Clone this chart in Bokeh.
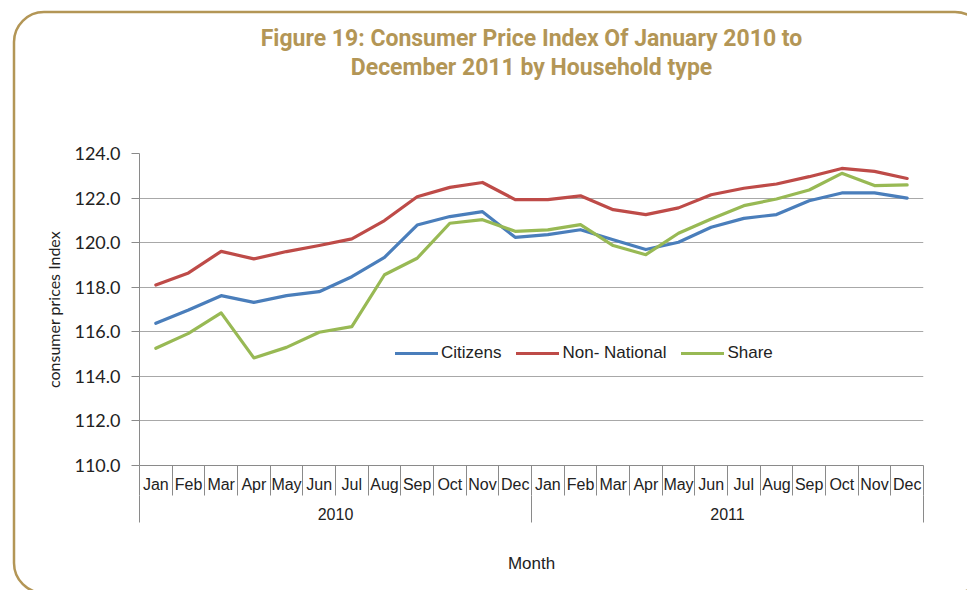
from bokeh.plotting import figure
from bokeh.models import (Range1d, LinearAxis, FixedTicker, CustomJSTickFormatter,
                          Title, Legend, LegendItem, NumeralTickFormatter)
from bokeh.embed import file_html
from bokeh.resources import INLINE

# ---- data ----
years = ["2010", "2011"]
months = ["Jan", "Feb", "Mar", "Apr", "May", "Jun", "Jul", "Aug", "Sep", "Oct", "Nov", "Dec"]
citizens = [116.38, 116.98, 117.62, 117.32, 117.62, 117.80, 118.47, 119.34, 120.79, 121.17, 121.39, 120.24,
            120.36, 120.58, 120.13, 119.69, 120.02, 120.69, 121.09, 121.26, 121.88, 122.23, 122.23, 122.00]
non_national = [118.10, 118.64, 119.61, 119.27, 119.60, 119.87, 120.17, 120.99, 122.06, 122.48, 122.70, 121.93,
                121.93, 122.10, 121.48, 121.26, 121.56, 122.15, 122.44, 122.63, 122.96, 123.33, 123.20, 122.88]
share = [115.26, 115.93, 116.85, 114.83, 115.30, 115.98, 116.23, 118.56, 119.30, 120.87, 121.03, 120.51,
         120.57, 120.81, 119.87, 119.46, 120.42, 121.06, 121.66, 121.96, 122.36, 123.11, 122.56, 122.59]
series_names = ["Citizens", "Non- National", "Share"]
y_ticks = [110, 112, 114, 116, 118, 120, 122, 124]
title_lines = ["Figure 19: Consumer Price Index Of January 2010 to", "December 2011 by Household type"]
y_title = "consumer prices Index"
x_title = "Month"

month_labels = [m for y in years for m in months]
n = len(month_labels)
nm = len(months)
xpos = [i + 0.5 for i in range(n)]  # category centres on the axis scale

GOLD = "#b39656"
GRID = "#a8a8a8"
AXIS = "#8a8a8a"
TXT = "#222222"

p = figure(width=967, height=590, output_backend="svg", toolbar_location=None,
           x_range=Range1d(0, n), y_range=Range1d(y_ticks[0], y_ticks[-1]),
           x_axis_location=None,
           min_border_left=139, min_border_right=44, min_border_top=153, min_border_bottom=125)
p.outline_line_color = None
p.background_fill_color = "white"
p.border_fill_alpha = 0
# rounded gold frame drawn behind the (transparent) canvas border area
p.styles = {
    "background-color": "white",
    "background-image": ("url(\"data:image/svg+xml;utf8,<svg xmlns='http://www.w3.org/2000/svg' "
                         "width='967' height='590'><rect x='14' y='12' width='971' height='581' rx='30' "
                         "ry='30' fill='none' stroke='%23b39656' stroke-width='2.5'/></svg>\")"),
    "background-repeat": "no-repeat",
}

# y axis
yax = p.yaxis[0]
yax.ticker = FixedTicker(ticks=y_ticks)
yax.formatter = NumeralTickFormatter(format="0.0")
yax.major_tick_out = 8
yax.major_tick_in = 0
yax.minor_tick_line_color = None
yax.axis_line_color = AXIS
yax.major_tick_line_color = AXIS
yax.major_label_standoff = 11
yax.major_label_text_font = "Lato"
yax.major_label_text_font_size = "18px"
yax.major_label_text_color = TXT
yax.axis_label = y_title
yax.axis_label_text_font = "Lato"
yax.axis_label_text_font_size = "16px"
yax.axis_label_text_font_style = "normal"
yax.axis_label_text_color = TXT
yax.axis_label_standoff = 8

p.ygrid.grid_line_color = GRID
p.ygrid.grid_line_width = 1
p.xgrid.visible = False

# month axis
ax1 = LinearAxis(ticker=FixedTicker(ticks=xpos, minor_ticks=list(range(n + 1))),
                 formatter=CustomJSTickFormatter(args=dict(labels=month_labels),
                                                 code="return labels[Math.floor(tick)];"))
ax1.major_tick_out = 0
ax1.major_tick_in = 0
ax1.major_tick_line_color = None
ax1.minor_tick_out = 30
ax1.minor_tick_in = 0
ax1.minor_tick_line_color = AXIS
ax1.axis_line_color = AXIS
ax1.major_label_standoff = -20
ax1.major_label_text_font = "Liberation Sans"
ax1.major_label_text_font_size = "16px"
ax1.major_label_text_color = TXT
p.add_layout(ax1, "below")

# year axis
ax2 = LinearAxis(ticker=FixedTicker(ticks=[i * nm + nm / 2 for i in range(len(years))],
                                    minor_ticks=[i * nm for i in range(len(years) + 1)]),
                 formatter=CustomJSTickFormatter(args=dict(labels=years, nm=nm),
                                                 code="return labels[Math.floor(tick / nm)];"))
ax2.major_tick_out = 0
ax2.major_tick_in = 0
ax2.major_tick_line_color = None
ax2.minor_tick_out = 27
ax2.minor_tick_in = 0
ax2.minor_tick_line_color = AXIS
ax2.axis_line_color = None
ax2.major_label_standoff = -15
ax2.major_label_text_font = "Liberation Sans"
ax2.major_label_text_font_size = "16px"
ax2.major_label_text_color = TXT
ax2.axis_label = x_title
ax2.axis_label_text_font = "Liberation Sans"
ax2.axis_label_text_font_size = "17px"
ax2.axis_label_text_font_style = "normal"
ax2.axis_label_text_color = TXT
ax2.axis_label_standoff = 31
p.add_layout(ax2, "below")

# lines
colors = ["#4a7ebb", "#be4b48", "#98b954"]
renderers = []
for vals, c in zip([citizens, non_national, share], colors):
    r = p.line(x=xpos, y=vals, line_color=c, line_width=3.2, line_join="round", line_cap="round")
    renderers.append(r)

legend = Legend(items=[LegendItem(label=nm_, renderers=[r]) for nm_, r in zip(series_names, renderers)],
                orientation="horizontal", location=(256, 102),
                border_line_color=None, background_fill_alpha=0,
                label_text_font="Liberation Sans", label_text_font_size="17px", label_text_color=TXT,
                glyph_width=43, glyph_height=20, label_standoff=3, spacing=15, padding=0, margin=0)
p.add_layout(legend)

# spacer between frame and the title (invisible axis with one unlabeled tick)
spacer = LinearAxis(ticker=FixedTicker(ticks=[0]),
                    formatter=CustomJSTickFormatter(code="return '';"),
                    major_tick_out=73, major_tick_in=0,
                    axis_line_color=None, major_tick_line_color=None, minor_tick_line_color=None,
                    major_label_standoff=0)
p.add_layout(spacer, "above")
# title lines, closest to the frame first
for line in reversed(title_lines):
    p.add_layout(Title(text=line, align="center", text_font="Roboto", text_font_style="bold",
                       text_font_size="23px", text_color=GOLD, standoff=0, text_line_height=1.0),
                 "above")

open("out.html", "w").write(file_html(p, INLINE))
